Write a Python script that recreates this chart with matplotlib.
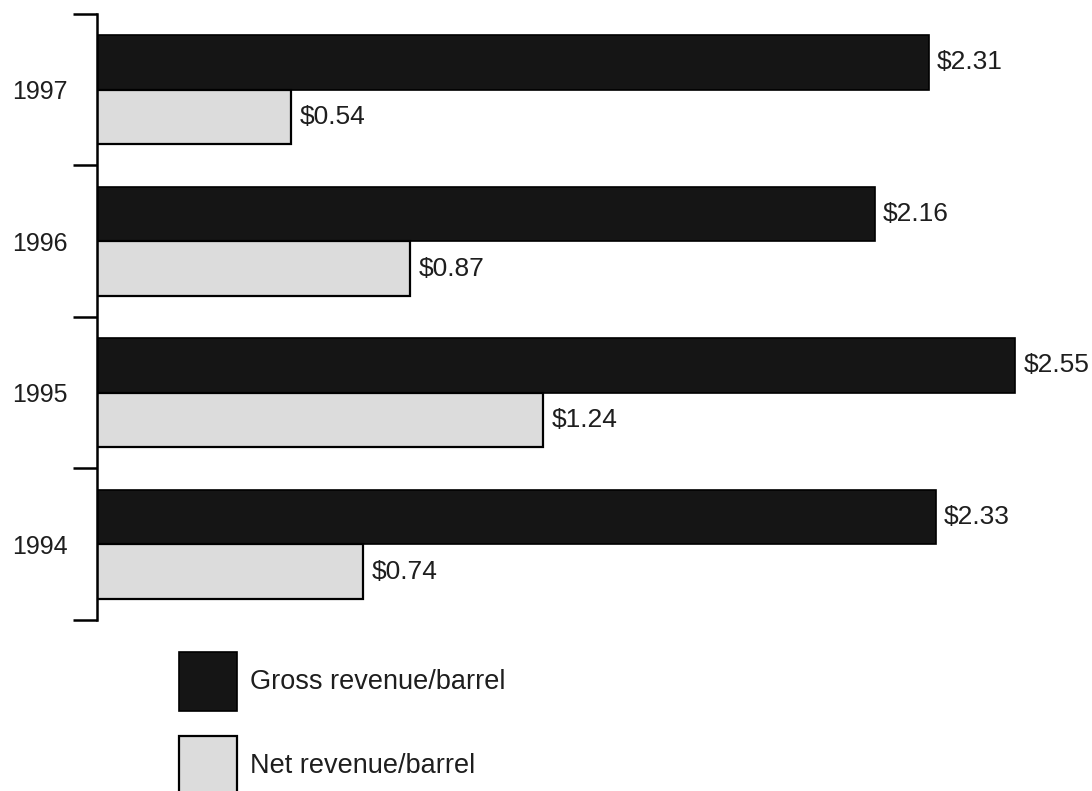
import matplotlib.pyplot as plt
from matplotlib.patches import Patch

# revenue per barrel, by year
years = ['1994', '1995', '1996', '1997']
gross = [2.33, 2.55, 2.16, 2.31]
net = [0.74, 1.24, 0.87, 0.54]

plt.rcParams['font.family'] = ['Liberation Sans', 'DejaVu Sans']
text_color = '#1e1e1e'
gross_color = '#151515'
net_color = '#dcdcdc'

fig = plt.figure(figsize=(10.92, 7.91), dpi=100)
ax = fig.add_axes([0.0888, 0.2162, 0.9112, 0.7661])

pos = list(range(len(years)))
h = 0.36
off = 0.18
ax.barh([p + off for p in pos], gross, height=h, color=gross_color,
        edgecolor='black', linewidth=1.2)
ax.barh([p - off for p in pos], net, height=h, color=net_color,
        edgecolor='black', linewidth=1.6)

# value labels just past the end of each bar
for p, g, n in zip(pos, gross, net):
    ax.annotate(f'${g:.2f}', (g, p + off), xytext=(6, 0), textcoords='offset points',
                va='center', ha='left', fontsize=19, color=text_color)
    ax.annotate(f'${n:.2f}', (n, p - off), xytext=(6, 0), textcoords='offset points',
                va='center', ha='left', fontsize=19, color=text_color)

ax.set_xlim(0, 2.764)
ax.set_ylim(-0.5, len(years) - 0.5)

# tick marks at group boundaries, year labels centred in each group
ax.set_yticks([p - 0.5 for p in range(len(years) + 1)])
ax.set_yticklabels([])
ax.set_yticks(pos, minor=True)
ax.set_yticklabels(years, minor=True)
ax.tick_params(axis='y', which='major', length=17, width=1.8, direction='out')
ax.tick_params(axis='y', which='minor', length=0, pad=21, labelsize=18,
               labelcolor=text_color)
ax.xaxis.set_visible(False)
for side in ['top', 'right', 'bottom']:
    ax.spines[side].set_visible(False)
ax.spines['left'].set_linewidth(1.8)

handles = [Patch(facecolor=gross_color, edgecolor='black', linewidth=1.2),
           Patch(facecolor=net_color, edgecolor='black', linewidth=1.6)]
fig.legend(handles, ['Gross revenue/barrel', 'Net revenue/barrel'],
           loc='upper left', bbox_to_anchor=(0.164, 0.176), frameon=False,
           fontsize=19.5, handlelength=2.15, handleheight=3.0, handletextpad=0.45,
           labelspacing=0.9, borderpad=0, borderaxespad=0, labelcolor=text_color)

fig.savefig('out.png', dpi=100)
